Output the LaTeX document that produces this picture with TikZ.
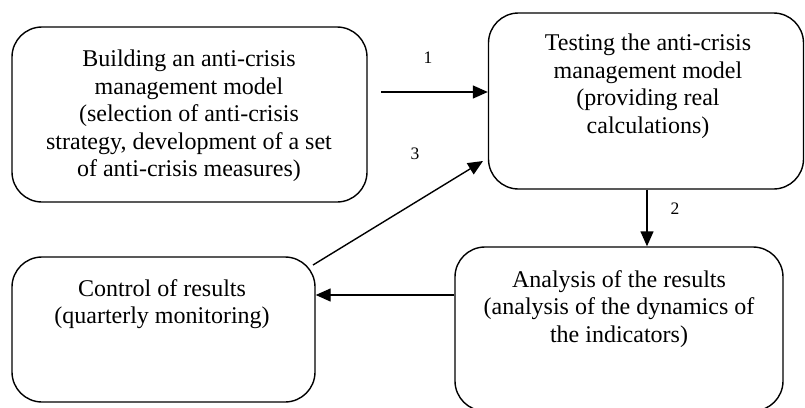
\documentclass[tikz,border=0pt]{standalone}
\usepackage{fontspec}
\setmainfont{Liberation Serif}
\usetikzlibrary{arrows.meta}
\begin{document}
\begin{tikzpicture}[x=1pt,y=-1pt,
  box/.style={draw, line width=1.4pt, rounded corners=30pt, inner sep=0pt},
  txt/.style={align=center, font=\fontsize{24}{27.5}\selectfont, inner sep=0pt},
  lbl/.style={font=\fontsize{17.5}{20}\selectfont, inner sep=0pt},
  arr/.style={line width=1.4pt, -{Triangle[length=15pt,width=13pt]}}]
\useasboundingbox (0,0) rectangle (805,407);
\begin{scope}
\clip (0,0) rectangle (805,407);
\node[box, minimum width=355pt, minimum height=175pt] (A) at (189.5,114.5) {};
\node[box, minimum width=315pt, minimum height=176pt] (B) at (646,101) {};
\node[box, minimum width=303pt, minimum height=145pt] (C) at (163.5,329.5) {};
\node[box, minimum width=328pt, minimum height=164pt] (D) at (619,329) {};
\end{scope}
\node[txt] (tA) at (189,116) {Building an anti-crisis\\management model\\(selection of anti-crisis\\strategy, development of a set\\of anti-crisis measures)};
\node[txt] (tB) at (648,86) {Testing the anti-crisis\\management model\\(providing real\\calculations)};
\node[txt] (tC) at (162,304) {Control of results\\(quarterly monitoring)};
\node[txt] (tD) at (619,309) {Analysis of the results\\(analysis of the dynamics of\\the indicators)};
\coordinate (s1) at (381,92);
\coordinate (s3) at (313,265);
\coordinate (e3) at (483,161);
\draw[arr] (s1) -- (B.west |- s1);
\draw[arr] (B.south -| 647,0) -- (D.north -| 647,0);
\draw[arr] (D.west |- 0,295) -- (C.east |- 0,295);
\draw[arr] (s3) -- (e3);
\node[lbl] (n1) at (428,58) {1};
\node[lbl] (n2) at (675,209) {2};
\node[lbl] (n3) at (415,154) {3};
\end{tikzpicture}
\end{document}
